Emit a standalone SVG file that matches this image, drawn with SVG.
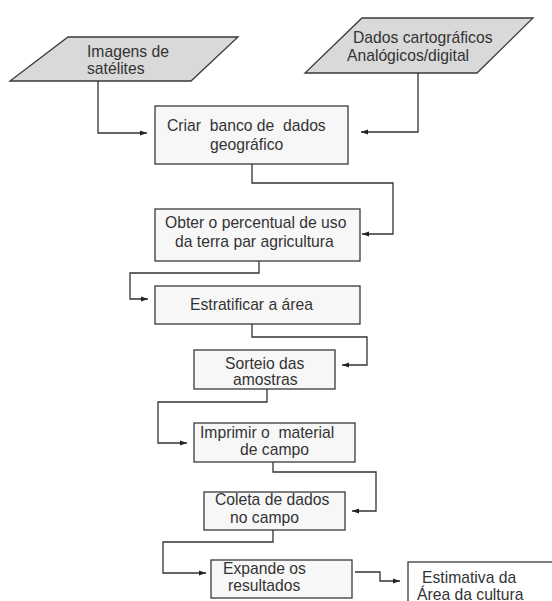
<svg xmlns="http://www.w3.org/2000/svg" width="552" height="601" viewBox="0 0 552 601">
<style>
.box{fill:#f7f7f7;stroke:#3a3a3a;stroke-width:1.3}
.io{fill:#d9d9d9;stroke:#3a3a3a;stroke-width:1.3}
.t{font-family:"Liberation Sans",Arial,sans-serif;font-size:15.7px;fill:#333}
.c{fill:none;stroke:#333;stroke-width:1.3;marker-end:url(#ah)}
</style>
<defs>
<marker id="ah" markerUnits="userSpaceOnUse" markerWidth="8" markerHeight="6" refX="7" refY="3" orient="auto">
<path d="M0,0.5 L7,3 L0,5.5 z" fill="#222"/>
</marker>
</defs>
<rect width="552" height="601" fill="#fff"/>
<g id="connectors">
<path class="c" d="M98,81 V133 H147"/>
<path class="c" d="M418,73 V132 H361"/>
<path class="c" d="M252,164 V183 H393 V234 H362"/>
<path class="c" d="M259,261 V273 H130 V299 H148"/>
<path class="c" d="M252,324 V337 H367 V365 H342"/>
<path class="c" d="M267,389 V402 H158 V443 H187"/>
<path class="c" d="M273,462 V472 H376 V511 H352"/>
<path class="c" d="M273,530 V542 H163 V573 H206"/>
<path class="c" d="M355,572 H380 V581 H400"/>
</g>
<g id="imagens">
<polygon class="io" points="68,37 238,37 191,81 10,81"/>
<text class="t" x="87" y="57">Imagens de</text>
<text class="t" x="87" y="74">satélites</text>
</g>
<g id="dados">
<polygon class="io" points="362,18 533,18 477,73 305,73"/>
<text class="t" x="353" y="43">Dados cartográficos</text>
<text class="t" x="347" y="61">Analógicos/digital</text>
</g>
<g id="criar">
<rect class="box" x="155" y="106" width="193" height="58"/>
<text class="t" x="167" y="131" xml:space="preserve">Criar  banco de  dados</text>
<text class="t" x="210" y="150">geográfico</text>
</g>
<g id="obter">
<rect class="box" x="155" y="209" width="205" height="52"/>
<text class="t" x="165" y="228">Obter o percentual de uso</text>
<text class="t" x="175" y="247">da terra par agricultura</text>
</g>
<g id="estratificar">
<rect class="box" x="155" y="286" width="205" height="38"/>
<text class="t" x="190" y="310">Estratificar a área</text>
</g>
<g id="sorteio">
<rect class="box" x="194" y="350" width="141" height="39"/>
<text class="t" x="225" y="369">Sorteio das</text>
<text class="t" x="233" y="385">amostras</text>
</g>
<g id="imprimir">
<rect class="box" x="194" y="423" width="161" height="39"/>
<text class="t" x="200" y="438" xml:space="preserve">Imprimir o  material</text>
<text class="t" x="240" y="455">de campo</text>
</g>
<g id="coleta">
<rect class="box" x="204" y="492" width="141" height="38"/>
<text class="t" x="215" y="505">Coleta de dados</text>
<text class="t" x="230" y="523">no campo</text>
</g>
<g id="expande">
<rect class="box" x="211" y="560" width="141" height="38"/>
<text class="t" x="223" y="574">Expande os</text>
<text class="t" x="228" y="591">resultados</text>
</g>
<g id="estimativa">
<rect class="box" x="408" y="562" width="150" height="50" style="fill:#fff"/>
<text class="t" x="422" y="583">Estimativa da</text>
<text class="t" x="417" y="600">Área da cultura</text>
</g>
</svg>
